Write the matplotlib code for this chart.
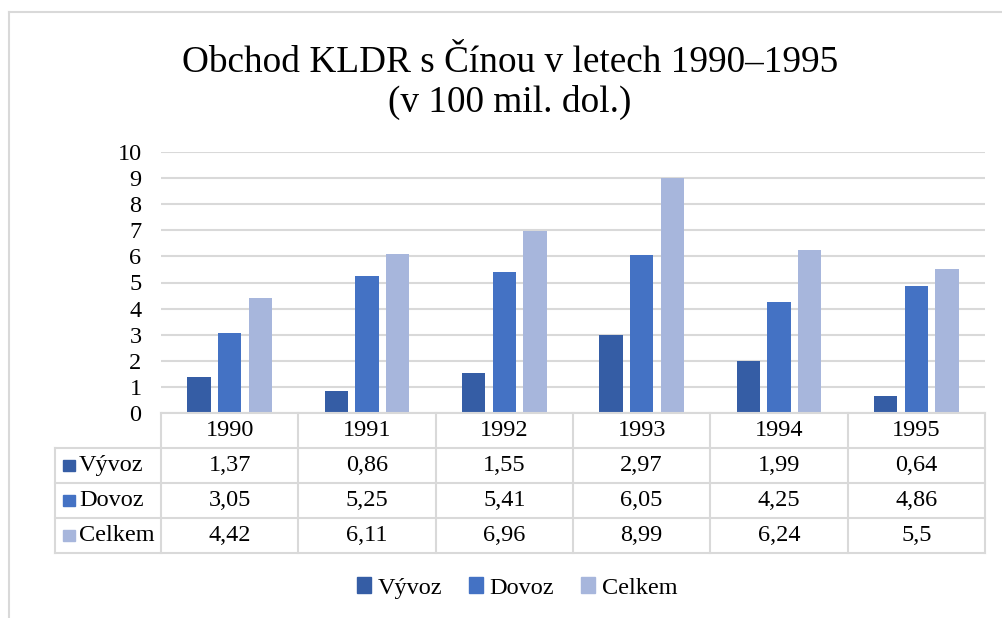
import matplotlib
matplotlib.use('Agg')
import matplotlib.pyplot as plt
from matplotlib.patches import Patch, Rectangle
from matplotlib.lines import Line2D
import numpy as np

plt.rcParams['font.family'] = ['Liberation Serif', 'DejaVu Serif']

years = ['1990', '1991', '1992', '1993', '1994', '1995']
series_names = ['Vývoz', 'Dovoz', 'Celkem']
vyvoz = [1.37, 0.86, 1.55, 2.97, 1.99, 0.64]
dovoz = [3.05, 5.25, 5.41, 6.05, 4.25, 4.86]
celkem = [4.42, 6.11, 6.96, 8.99, 6.24, 5.5]
series = [vyvoz, dovoz, celkem]
colors = ['#355DA5', '#4472C4', '#A7B6DC']
grid_c = '#D9D9D9'
fs = 17.5

W, H = 1002, 618
fig = plt.figure(figsize=(W / 100, H / 100), dpi=100)

# outer chart frame (left and top edges visible)
fig.add_artist(Line2D([9 / W, 9 / W], [0, 1 - 12 / H], color=grid_c, lw=1.5))
fig.add_artist(Line2D([9 / W, 1], [1 - 12 / H, 1 - 12 / H], color=grid_c, lw=1.5))

fig.text(0.509, 1 - 63 / H, 'Obchod KLDR s Čínou v letech 1990–1995', ha='center', va='center', fontsize=26.8)
fig.text(0.509, 1 - 102 / H, '(v 100 mil. dol.)', ha='center', va='center', fontsize=26.8)

# bar area
x0, x1 = 161, 985
y_top, y_zero = 152, 413
ax = fig.add_axes([x0 / W, 1 - y_zero / H, (x1 - x0) / W, (y_zero - y_top) / H])
x = np.arange(len(years))
bw = 0.17
step = 0.224
for k, vals in enumerate(series):
    ax.bar(x + (k - 1) * step, vals, bw, color=colors[k], zorder=3)
ax.set_xlim(-0.5, len(years) - 0.5)
ax.set_ylim(0, 10)
ax.set_yticks(range(0, 11))
ax.yaxis.grid(True, color=grid_c, lw=1.5, zorder=0)
ax.set_xticks([])
ax.tick_params(axis='y', length=0, labelsize=fs, pad=14)
for s in ax.spines.values():
    s.set_visible(False)

# data table
t_left, t_bottom = 55, 553
cw = (x1 - x0) / len(years)
tax = fig.add_axes([t_left / W, 1 - t_bottom / H, (x1 - t_left) / W, (t_bottom - y_zero) / H])
lx = -0.5 - (x0 - t_left) / cw
tax.set_xlim(lx, len(years) - 0.5)
tax.set_ylim(4, 0)
tax.axis('off')
lw = 1.5
# horizontal lines
tax.plot([-0.5, len(years) - 0.5], [0, 0], color=grid_c, lw=lw, clip_on=False)
for r in range(1, 5):
    tax.plot([lx, len(years) - 0.5], [r, r], color=grid_c, lw=lw, clip_on=False)
# vertical lines
tax.plot([lx, lx], [1, 4], color=grid_c, lw=lw, clip_on=False)
for c in range(len(years) + 1):
    xc = c - 0.5
    tax.plot([xc, xc], [0, 4], color=grid_c, lw=lw, clip_on=False)

for i, yv in enumerate(years):
    tax.text(i, 0.5, yv, ha='center', va='center', fontsize=fs)
for k, vals in enumerate(series):
    for i, v in enumerate(vals):
        tax.text(i, k + 1.5, ('%g' % v).replace('.', ','), ha='center', va='center', fontsize=fs)
    sq = 12 / cw
    tax.add_patch(Rectangle((lx + 8 / cw, k + 1.5 - 0.17), sq, 0.34, color=colors[k], clip_on=False))
    tax.text(lx + 24 / cw, k + 1.5, series_names[k], ha='left', va='center', fontsize=fs)

handles = [Patch(color=colors[k], label=series_names[k]) for k in range(3)]
fig.legend(handles=handles, loc='center', bbox_to_anchor=(517 / W, 1 - 588 / H), ncol=3,
           frameon=False, fontsize=fs, handlelength=0.6, handleheight=0.6,
           handletextpad=0.25, columnspacing=1.1)

fig.savefig('out.png', dpi=100)
